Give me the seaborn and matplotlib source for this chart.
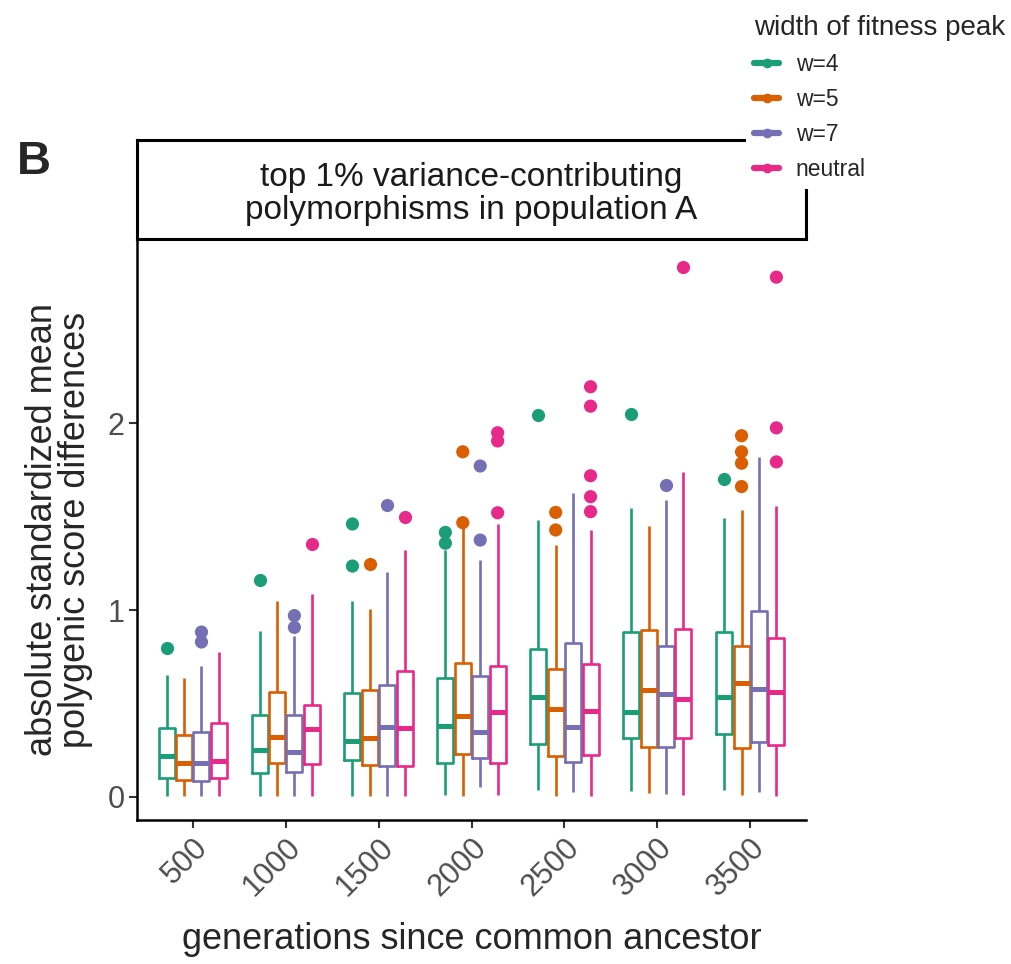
import numpy as np
import pandas as pd
import matplotlib
matplotlib.use("Agg")
import matplotlib.pyplot as plt
from matplotlib.lines import Line2D
import seaborn as sns

# ---- data -------------------------------------------------------------
generations = ["500", "1000", "1500", "2000", "2500", "3000", "3500"]
widths = ["w=4", "w=5", "w=7", "neutral"]
colors = ["#1B9E77", "#D95F02", "#7570B3", "#E7298A"]

# five-number summaries per peak width, one value per generation
lower = {
    "w=4":     [0.005, 0.005, 0.005, 0.010, 0.037, 0.030, 0.037],
    "w=5":     [0.003, 0.005, 0.003, 0.005, 0.005, 0.020, 0.010],
    "w=7":     [0.003, 0.005, 0.005, 0.055, 0.027, 0.018, 0.028],
    "neutral": [0.005, 0.005, 0.005, 0.010, 0.005, 0.010, 0.005],
}
q1 = {
    "w=4":     [0.103, 0.127, 0.200, 0.180, 0.282, 0.318, 0.337],
    "w=5":     [0.089, 0.180, 0.171, 0.228, 0.220, 0.270, 0.260],
    "w=7":     [0.086, 0.135, 0.168, 0.210, 0.185, 0.265, 0.295],
    "neutral": [0.100, 0.175, 0.166, 0.183, 0.225, 0.314, 0.276],
}
median = {
    "w=4":     [0.220, 0.250, 0.300, 0.381, 0.533, 0.456, 0.534],
    "w=5":     [0.180, 0.320, 0.317, 0.435, 0.470, 0.572, 0.610],
    "w=7":     [0.180, 0.240, 0.376, 0.350, 0.376, 0.550, 0.576],
    "neutral": [0.193, 0.365, 0.370, 0.456, 0.460, 0.524, 0.563],
}
q3 = {
    "w=4":     [0.370, 0.440, 0.555, 0.638, 0.790, 0.882, 0.882],
    "w=5":     [0.333, 0.560, 0.572, 0.718, 0.683, 0.891, 0.810],
    "w=7":     [0.348, 0.440, 0.600, 0.647, 0.825, 0.810, 0.996],
    "neutral": [0.396, 0.490, 0.675, 0.700, 0.710, 0.900, 0.849],
}
upper = {
    "w=4":     [0.650, 0.888, 1.048, 1.320, 1.480, 1.544, 1.490],
    "w=5":     [0.635, 1.050, 1.007, 1.445, 1.348, 1.450, 1.535],
    "w=7":     [0.700, 0.863, 1.205, 1.267, 1.624, 1.590, 1.818],
    "neutral": [0.777, 1.084, 1.320, 1.460, 1.428, 1.740, 1.554],
}
# outlying replicates per peak width, one list per generation
outliers = {
    "w=4":     [[0.795], [1.16], [1.235, 1.46], [1.357, 1.415], [2.043], [2.047], [1.70]],
    "w=5":     [[], [], [1.248], [1.467, 1.846], [1.428, 1.522], [], [1.66, 1.785, 1.846, 1.932]],
    "w=7":     [[0.829, 0.882], [0.907, 0.97], [1.56], [1.374, 1.77], [], [1.67], []],
    "neutral": [[], [1.353], [1.50], [1.52, 1.904, 1.948],
                [1.526, 1.606, 1.718, 2.09, 2.194], [2.835], [1.792, 1.974, 2.78]],
}

# long-form tables
box_rows = []
for w in widths:
    for i, g in enumerate(generations):
        for stat in (lower, q1, median, q3, upper):
            box_rows.append({"generation": g, "width": w, "value": stat[w][i]})
box_df = pd.DataFrame(box_rows)

out_rows = []
for w in widths:
    for i, g in enumerate(generations):
        for v in outliers[w][i]:
            out_rows.append({"generation": g, "width": w, "value": v})
out_df = pd.DataFrame(out_rows)

# ---- style ------------------------------------------------------------
sns.set_theme(style="ticks")
plt.rcParams["font.family"] = ["Liberation Sans", "DejaVu Sans"]

W, H = 1011, 964
fig = plt.figure(figsize=(W / 100, H / 100), dpi=100)

px_l, px_r, px_t, px_b, strip_top = 137, 806, 239, 820, 140
ax = fig.add_axes([px_l / W, 1 - px_b / H, (px_r - px_l) / W, (px_b - px_t) / H])

box_width = 0.75
sns.boxplot(data=box_df, x="generation", y="value", hue="width",
            order=generations, hue_order=widths, palette=colors,
            fill=False, width=box_width, gap=0.08, whis=(0, 100),
            showcaps=False, showfliers=False, linewidth=1.9,
            medianprops={"linewidth": 3.6}, legend=False, ax=ax)

n_before = len(ax.collections)
sns.stripplot(data=out_df, x="generation", y="value", hue="width",
              order=generations, hue_order=widths, palette=colors,
              dodge=True, jitter=False, size=9.5, linewidth=0,
              legend=False, ax=ax)
# stripplot dodges over 0.8 of a slot; bring points onto the box centres
for coll in ax.collections[n_before:]:
    off = coll.get_offsets()
    if len(off):
        off = np.asarray(off).copy()
        c = np.round(off[:, 0])
        off[:, 0] = c + (off[:, 0] - c) * box_width / 0.8
        coll.set_offsets(off)

ax.set_xlim(-0.6, 6.6)
ax.set_ylim(-0.123, 2.984)
ax.set_yticks([0, 1, 2])
ax.set_yticklabels(["0", "1", "2"])
for s in ("top", "right"):
    ax.spines[s].set_visible(False)
for s in ("left", "bottom"):
    ax.spines[s].set_linewidth(1.8)
    ax.spines[s].set_color("black")
ax.tick_params(axis="both", length=5.5, width=1.5, color="#333333",
               labelcolor="#4D4D4D", labelsize=22)
plt.setp(ax.get_xticklabels(), rotation=45, ha="right", rotation_mode="anchor")
ax.set_xlabel("generations since common ancestor", fontsize=26, labelpad=14)
ax.set_ylabel("absolute standardized mean\npolygenic score differences",
              fontsize=26, linespacing=0.95, labelpad=10)

# facet strip
sax = fig.add_axes([px_l / W, 1 - px_t / H, (px_r - px_l) / W, (px_t - strip_top) / H])
sax.set_xticks([])
sax.set_yticks([])
sax.set_facecolor("white")
for s in sax.spines.values():
    s.set_linewidth(2.2)
    s.set_color("black")
sax.text(0.5, 0.45, "top 1% variance-contributing\npolymorphisms in population A",
         ha="center", va="center", fontsize=24, linespacing=1.08,
         color="#1A1A1A", transform=sax.transAxes)

# panel tag
fig.text(17 / W, 1 - 162 / H, "B", fontsize=34, fontweight="bold", va="center")

# legend
handles = [Line2D([0], [0], color=c, lw=4.5, marker="o", markersize=6)
           for c in colors]
leg = fig.legend(handles, widths, title="width of fitness peak",
                 loc="upper left", bbox_to_anchor=(735 / W, 1 + 4 / H),
                 frameon=True, fontsize=16.5, title_fontsize=20,
                 handlelength=1.05, handletextpad=0.75, labelspacing=0.52,
                 alignment="left", borderpad=0.35)
leg.get_frame().set_facecolor("white")
leg.get_frame().set_edgecolor("none")
leg.get_frame().set_alpha(1.0)
leg.set_zorder(10)

fig.savefig("out.png", dpi=100)
